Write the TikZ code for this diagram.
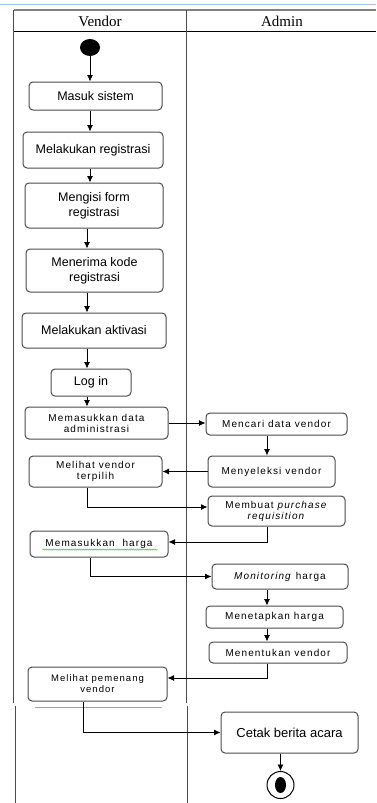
\documentclass[tikz,border=0pt]{standalone}
\usepackage{fontspec}
\setmainfont{Liberation Serif}
\setsansfont{Liberation Sans}
\newfontfamily\widesans[LetterSpace=11]{Liberation Sans}
\usepackage{tikz}
\usetikzlibrary{arrows,arrows.meta,decorations.pathmorphing,positioning,shapes.geometric}
\definecolor{linegray}{rgb}{0.3,0.3,0.3}
\definecolor{pageblue}{rgb}{0.66,0.78,0.92}
\definecolor{spellgreen}{rgb}{0.45,0.7,0.35}

\begin{document}
\begin{tikzpicture}[x=1pt,y=-1pt,
	act/.style={rectangle, rounded corners=4pt, draw=linegray, line width=1pt, fill=white, align=center, inner sep=2pt, font=\sffamily\fontsize{12.5}{15}\selectfont},
	actsmall/.style={act, font=\widesans\fontsize{10}{11}\selectfont},
	flow/.style={-{Latex[length=6.5pt,width=6pt]}, black, line width=0.8pt},
	lane/.style={linegray, line width=1pt}]
\useasboundingbox (0,0) rectangle (376,803);

	% swimlanes
	\draw[pageblue, line width=1pt] (0,4) -- (376,4);
	\draw[gray, line width=1.5pt] (13.5,10) -- (376,10);
	\draw[black, line width=0.8pt] (13.5,31.5) -- (376,31.5);
	\draw[lane] (13.5,10) -- (13.5,703);
	\draw[lane] (186.5,10) -- (186.5,703);
	\draw[lane] (15.7,706) -- (15.7,803);
	\draw[lane] (187.5,706) -- (187.5,803);
	\draw[gray!70, line width=1pt] (35,707) -- (162,707);
	\node[font=\fontsize{15}{15}\selectfont] (vendorlbl) at (100,21) {Vendor};
	\node[font=\fontsize{15}{15}\selectfont] (adminlbl) at (282,21) {Admin};

	\coordinate (vl) at (87,0);
	\coordinate (al) at (267,0);
	\coordinate (pl) at (83,0);

	\node[ellipse, fill=black, minimum width=20, minimum height=17, inner sep=0] (start) at (90,47.5) {};
	\node[act, minimum width=133, minimum height=28] (masuk) at (95.5,96) {Masuk sistem};
	\node[act, minimum width=140, minimum height=36] (daftar) at (93,150) {Melakukan registrasi};
	\node[act, minimum width=138, minimum height=45] (isiform) at (94,205.5) {Mengisi form\\registrasi};
	\node[act, minimum width=137, minimum height=43] (kode) at (94.5,270.5) {Menerima kode\\registrasi};
	\node[act, minimum width=144, minimum height=35] (aktivasi) at (94,330.5) {Melakukan aktivasi};
	\node[act, minimum width=80, minimum height=27] (login) at (91,382.5) {Log in};
	\node[actsmall, minimum width=143, minimum height=32] (admdata) at (96.5,423) {Memasukkan data\\administrasi};
	\node[actsmall, minimum width=141, minimum height=22] (cari) at (276.5,424) {Mencari data vendor};
	\node[actsmall, minimum width=127, minimum height=31] (seleksi) at (271.5,471.5) {Menyeleksi vendor};
	\node[actsmall, minimum width=133, minimum height=31] (terpilih) at (95.5,471.5) {Melihat vendor\\terpilih};
	\node[actsmall, minimum width=137, minimum height=30] (buatpr) at (276.5,511) {Membuat \textit{purchase}\\\textit{requisition}};
	\node[actsmall, minimum width=138, minimum height=26] (harga) at (99,544) {Memasukkan\ \ harga};
	\node[actsmall, minimum width=136, minimum height=25] (monitor) at (280,576.5) {\textit{Monitoring} harga};
	\node[actsmall, minimum width=137, minimum height=22] (tetapkan) at (274.5,617) {Menetapkan harga};
	\node[actsmall, minimum width=138, minimum height=21] (tentukan) at (278,652.5) {Menentukan vendor};
	\node[actsmall, font=\widesans\fontsize{9.5}{11}\selectfont, minimum width=139, minimum height=34] (pemenang) at (97.5,684) {Melihat pemenang\\vendor};
	\node[act, font=\sffamily\fontsize{13}{15}\selectfont, minimum width=137, minimum height=41] (cetak) at (289.5,732.5) {Cetak berita acara};
	\node[circle, draw=black, line width=1pt, fill=white, minimum size=27, inner sep=0] (finish) at (280.5,785) {};
	\node[ellipse, fill=black, minimum width=11, minimum height=16, inner sep=0] (finishdot) at (finish) {};

	\draw[spellgreen, line width=0.6pt, decorate, decoration={snake, amplitude=0.6pt, segment length=2pt}] ([xshift=13pt,yshift=-3pt]harga.base west) -- ([xshift=-11pt,yshift=-3pt]harga.base east);

	\draw[flow] (start) -- (masuk.north -| start);
	\draw[flow] (masuk.south -| start) -- (daftar.north -| start);
	\draw[flow] (daftar.south -| start) -- (isiform.north -| start);
	\draw[flow] (isiform.south -| vl) -- (kode.north -| vl);
	\draw[flow] (kode.south -| vl) -- (aktivasi.north -| vl);
	\draw[flow] (aktivasi.south -| vl) -- (login.north -| vl);
	\draw[flow] (login.south -| vl) -- (admdata.north -| vl);
	\draw[flow] (admdata.east) -- (cari.west |- admdata.east);
	\draw[flow] (cari.south -| al) -- (seleksi.north -| al);
	\draw[flow] (seleksi.west) -- (terpilih.east |- seleksi.west);
	\draw[flow] (terpilih.south -| vl) |- ([yshift=4pt]buatpr.west);
	\draw[flow] (buatpr.south -| al) |- ([yshift=2pt]harga.east);
	\draw[flow] (harga.south -| start) |- (monitor.west);
	\draw[flow] (monitor.south -| al) -- (tetapkan.north -| al);
	\draw[flow] (tetapkan.south -| al) -- (tentukan.north -| al);
	\draw[flow] (tentukan.south -| al) |- ([yshift=6pt]pemenang.east);
	\draw[flow] (pemenang.south -| pl) |- (cetak.west);
	\draw[flow] (cetak.south -| finish) -- (finish.north);
\end{tikzpicture}
\end{document}
